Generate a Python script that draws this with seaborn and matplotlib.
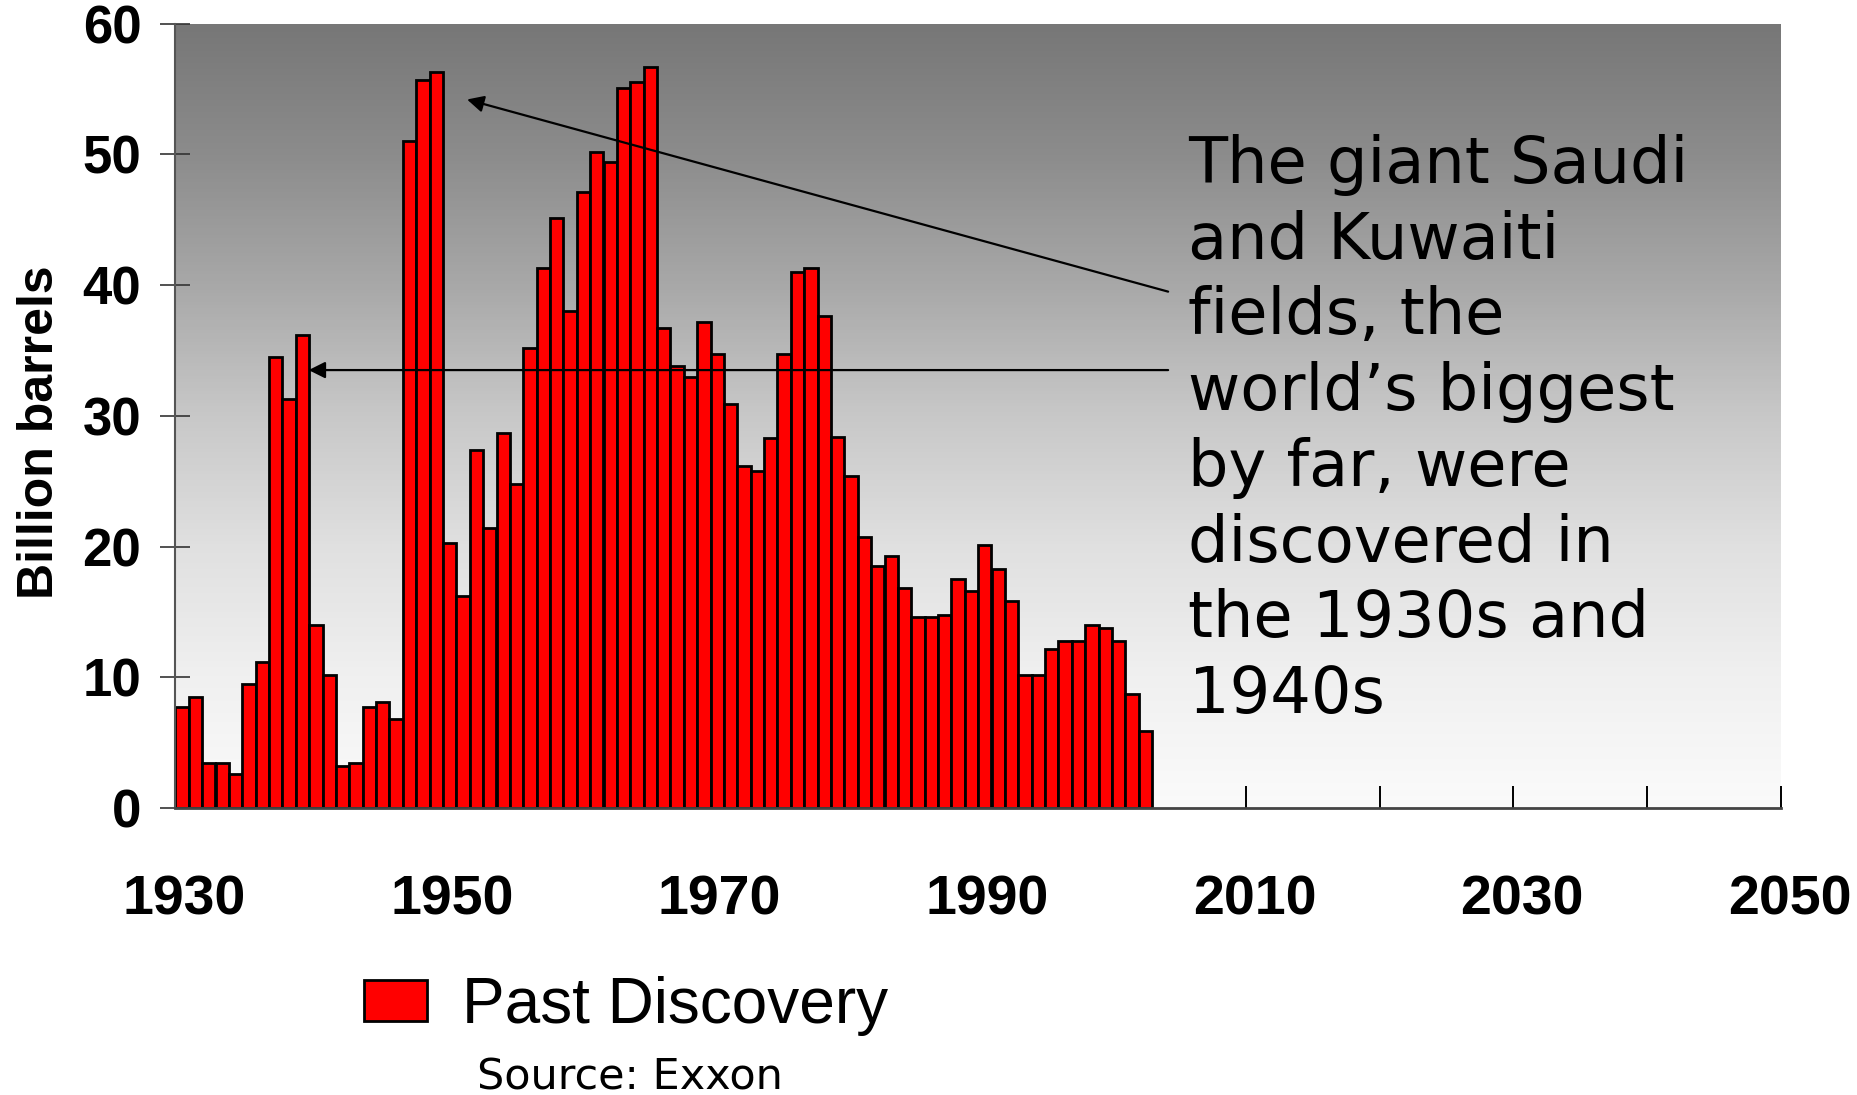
import numpy as np
import pandas as pd
import matplotlib
matplotlib.use("Agg")
import matplotlib.pyplot as plt
import matplotlib.transforms as mtransforms
from matplotlib.colors import LinearSegmentedColormap
from matplotlib.ticker import FixedLocator, MultipleLocator
import seaborn as sns

# Annual oil discoveries, billion barrels
years = list(range(1930, 2003))
discoveries = [
    7.7, 8.5, 3.45, 3.45, 2.6, 9.5, 11.2, 34.5, 31.3, 36.2,      # 1930s
    14.0, 10.15, 3.25, 3.45, 7.7, 8.1, 6.8, 51.0, 55.7, 56.3,    # 1940s
    20.3, 16.2, 27.4, 21.4, 28.7, 24.8, 35.2, 41.3, 45.1, 38.0,  # 1950s
    47.1, 50.2, 49.4, 55.1, 55.5, 56.7, 36.7, 33.8, 33.0, 37.2,  # 1960s
    34.7, 30.9, 26.2, 25.8, 28.3, 34.7, 41.0, 41.3, 37.6, 28.4,  # 1970s
    25.4, 20.7, 18.5, 19.3, 16.8, 14.6, 14.6, 14.8, 17.5, 16.6,  # 1980s
    20.1, 18.3, 15.8, 10.15, 10.15, 12.2, 12.8, 12.8, 14.0, 13.8,  # 1990s
    12.8, 8.7, 5.9,                                              # 2000s
]
x_ticks = [1930, 1950, 1970, 1990, 2010, 2030, 2050]
x_labels = ["1930", "1950", "1970", "1990", "2010", "2030", "2050"]
y_ticks = [0, 10, 20, 30, 40, 50, 60]
series_name = "Past Discovery"
y_title = "Billion barrels"
note = ("The giant Saudi\nand Kuwaiti\nfields, the\nworld\u2019s biggest\n"
        "by far, were\ndiscovered in\nthe 1930s and\n1940s")
source = "Source: Exxon"

sns.set_style("ticks")
plt.rcParams["font.family"] = ["Liberation Sans", "DejaVu Sans"]
plt.rcParams["text.color"] = "black"
plt.rcParams["axes.labelcolor"] = "black"
plt.rcParams["xtick.labelcolor"] = "black"
plt.rcParams["ytick.labelcolor"] = "black"

fig = plt.figure(figsize=(18.58, 10.95), dpi=100)
ax = fig.add_axes([0.0944, 0.2621, 0.8641, 0.7163])

# grey-to-white vertical shading behind the bars
shade = LinearSegmentedColormap.from_list(
    "shade",
    [(0.0, "#fbfbfb"), (1 / 6, "#f0f0f0"), (2 / 6, "#e0e0e0"), (0.5, "#c8c8c8"),
     (4 / 6, "#a8a8a8"), (5 / 6, "#8c8c8c"), (1.0, "#777777")],
)
ax.imshow(np.linspace(0, 1, 256).reshape(-1, 1), extent=(1930, 2050, 0, 60),
          origin="lower", cmap=shade, aspect="auto", zorder=0)

# each year's bar spans [year, year + 1]
df = pd.DataFrame({"year": np.array(years) + 0.5, "discovery": discoveries})
sns.barplot(data=df, x="year", y="discovery", native_scale=True, width=0.995,
            color="#ff0000", saturation=1, edgecolor="black", linewidth=2.0,
            errorbar=None, label=series_name, ax=ax, zorder=2)

ax.set_xlim(1930, 2050)
ax.set_ylim(0, 60)
ax.set_axisbelow(True)

ax.xaxis.set_major_locator(FixedLocator(x_ticks))
ax.xaxis.set_minor_locator(MultipleLocator(10))
ax.set_xticklabels(x_labels)
ax.yaxis.set_major_locator(FixedLocator(y_ticks))
ax.set_yticklabels([str(v) for v in y_ticks])

ax.tick_params(axis="x", which="both", direction="in", length=16, width=1.4,
               color="black", labelcolor="black", pad=48, labelsize=40)
ax.tick_params(axis="y", direction="inout", length=21, width=1.2,
               color="#333333", labelcolor="black", pad=14, labelsize=38)
shift = mtransforms.ScaledTranslation(0.09, 0, fig.dpi_scale_trans)
for lab in ax.get_xticklabels():
    lab.set_fontweight("bold")
    lab.set_transform(lab.get_transform() + shift)
for lab in ax.get_yticklabels():
    lab.set_fontweight("bold")

for side in ("top", "right"):
    ax.spines[side].set_visible(False)
ax.spines["left"].set_color("#555555")
ax.spines["left"].set_linewidth(1.5)
ax.spines["bottom"].set_color("#444444")
ax.spines["bottom"].set_linewidth(2)

ax.set_xlabel("")
ax.set_ylabel(y_title, fontsize=36, fontweight="bold", color="black")
ax.yaxis.set_label_coords(-0.070, 0.4788)

# callout arrows pointing at the 1938 and 1948 peaks
arrow_style = dict(arrowstyle="-|>", color="black", lw=1.6, mutation_scale=25,
                   shrinkA=0, shrinkB=0)
ax.annotate("", xy=(1951.8, 54.2), xytext=(2004.2, 39.5),
            arrowprops=arrow_style, annotation_clip=False, zorder=5)
ax.annotate("", xy=(1939.96, 33.5), xytext=(2004.2, 33.5),
            arrowprops=arrow_style, annotation_clip=False, zorder=5)

fig.text(1188.5 / 1858, 1 - 134 / 1095, note, fontsize=46, family="DejaVu Sans",
         color="black", ha="left", va="top", linespacing=1.28)

ax.legend(loc="center left", bbox_to_anchor=(364 / 1858, 1 - 1006 / 1095),
          bbox_transform=fig.transFigure, frameon=False, fontsize=46,
          labelcolor="black", handlelength=0.99, handleheight=0.63,
          handletextpad=0.55, borderpad=0, borderaxespad=0)

fig.text(477.5 / 1858, 1 - 1089 / 1095, source, fontsize=31,
         family="DejaVu Sans", color="black", ha="left", va="baseline")

fig.savefig("out.png", dpi=100)
